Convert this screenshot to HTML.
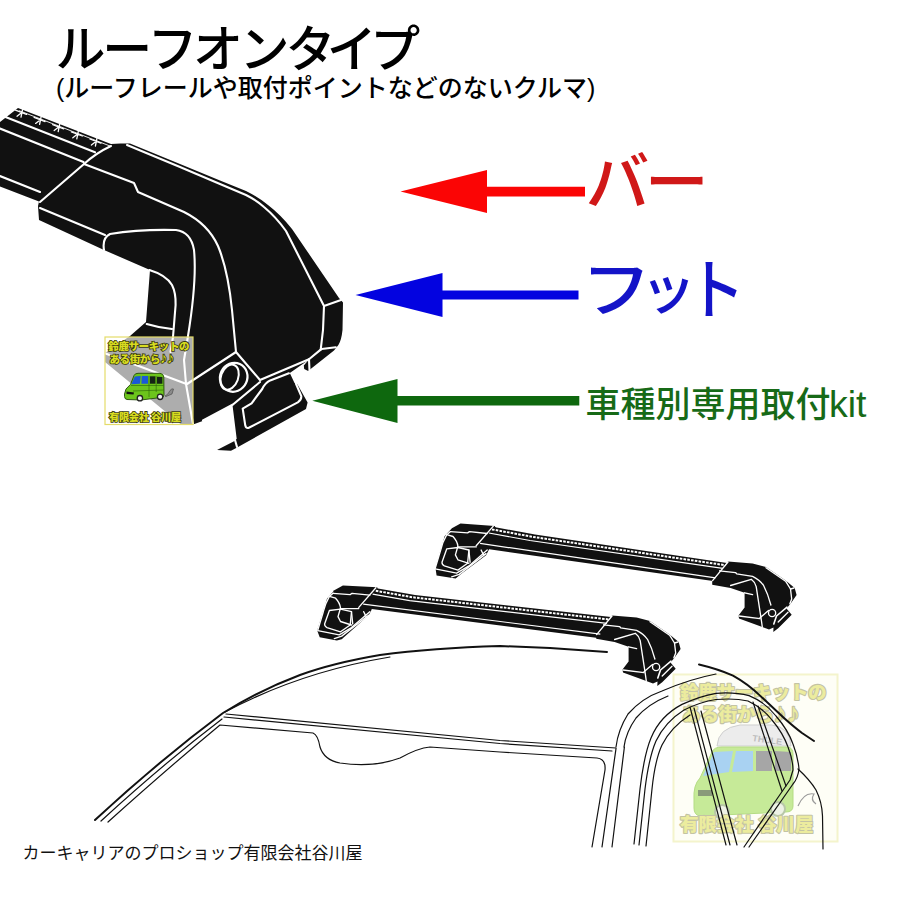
<!DOCTYPE html>
<html lang="ja">
<head>
<meta charset="utf-8">
<title>ルーフオンタイプ</title>
<style>
html,body{margin:0;padding:0;background:#fff;}
body{width:900px;height:900px;overflow:hidden;position:relative;font-family:"Liberation Sans","Noto Sans CJK JP",sans-serif;}
svg{position:absolute;left:0;top:0;display:block;}
text{font-family:"Liberation Sans","Noto Sans CJK JP",sans-serif;}
.w{fill:none;stroke:#fff;stroke-width:2.1;stroke-linecap:round;stroke-linejoin:round;}
.k{fill:none;stroke:#111;stroke-width:1.2;stroke-linecap:round;stroke-linejoin:round;}
.k2{fill:none;stroke:#111;stroke-width:2;stroke-linecap:round;stroke-linejoin:round;}
</style>
</head>
<body>
<svg width="900" height="900" viewBox="0 0 900 900">
<rect width="900" height="900" fill="#fff"/>

<!-- TITLE -->
<g id="title">
<text x="55.4 102.3 147.6 192.9 239.4 285.5 326.8 370.3" y="67" font-size="50" font-weight="500" fill="#000">ルーフオンタイプ</text>
<text x="56" y="96.5" font-size="25" font-weight="500" fill="#000">(ルーフレールや取付ポイントなどのないクルマ)</text>
</g>

<!-- BIGFOOT -->
<g id="bigfoot">
<path fill="#111" d="M0,122 L18,108 L111,144 L120.5,143.5 L130,143.5 L180,164 L220,180.5 L246,191 Q258,197 268,205 Q281,215 292,229 L339,298 L343,302.5 L342.5,330 Q341.5,340 338.4,345 L334,350.4 L310,369.5 L308.2,371 L304.2,369 L303.8,365.6 L308.5,360 L289.8,373 L294.5,383 L297.5,384.5 L307.6,402.4 L306,409 L236.7,447.8 L231,450.7 L217,450 L235,440.7 L236.7,438.7 L232.5,405 L202.7,421 L193,424.5 L181,424.5 L105,362 L105,353 L130,336 L146,322 L150,270 L104,250 L39,220 L38,206 L39,201.5 L0,186.5 Z"/>

<!-- white detail lines -->
<path class="w" d="M5.5,117 L95,152.3"/>
<path class="w" d="M0,128.5 L83.5,162"/>
<path class="w" d="M0,176 L40,192"/>
<path class="w" d="M111,146 Q96,153 84,164 L40,202"/>
<path class="w" d="M84,164 L134,183 L138,192 L184,212 Q208,224 218,246 Q228,270 232,310 L236,352"/>
<path class="w" d="M127,145 L180,167 L220,184 L246,195 Q256,200 264,207 Q276,217 286,231 L324,306 L323,330 L320.7,349.6"/>
<path class="w" d="M324,306 L341,300"/>
<path class="w" d="M321.6,349 L335.8,347.3"/>
<path class="w" d="M309,359.3 L309.5,370.5"/>
<path class="w" d="M40,208 L105,235"/>
<path class="w" d="M104,250 Q102,238 110,234 Q140,229 176,230 Q191,232 194,250 Q197,280 188,336 L184,360 L186,384 L193,424"/>
<path class="w" d="M149.4,270 Q166,275 172,285 Q176,293 175.6,305 L173,337 L170.5,352"/>
<path class="w" d="M146.7,324 Q158,327.5 172,329"/>
<path class="w" d="M236,352 L187,384"/>
<path class="w" d="M105.5,353.5 L186.5,384"/>
<path class="w" d="M236,352 L260,380 L309,359.3 L320.7,349.6"/>
<path class="w" d="M260,382 L233,404.5 L203,420.5"/>
<path class="w" d="M288.9,373.3 L270.2,380.4 Q265,383 262.2,389 L251.6,403.3 L242.7,408.7 L245.3,425.6 Q246,428.6 248.8,427.8 L297.8,402.4 Q301.5,400 301.3,396.2 L296,383.8"/>
<path class="w" d="M235,440 L237,447"/>
<ellipse class="w" cx="233.7" cy="377.3" rx="13.6" ry="14.6" transform="rotate(25 233.7 377.3)" style="stroke-width:2.2"/>
<ellipse class="w" cx="229.6" cy="377.2" rx="8.6" ry="13" transform="rotate(20 229.6 377.2)" style="stroke-width:2"/>
<!-- tick marks on bar -->
<g class="w" style="stroke-width:1.3"><path d="M15.5,110.2 l11,4.2 M22.5,109.7 l-1.5,7.5 M21.5,112.7 l-4.5,3.5"/><path d="M34.1,117.4 l11,4.2 M41.1,116.9 l-1.5,7.5 M40.1,119.9 l-4.5,3.5"/><path d="M52.7,124.6 l11,4.2 M59.7,124.1 l-1.5,7.5 M58.7,127.1 l-4.5,3.5"/><path d="M71.3,131.8 l11,4.2 M78.3,131.3 l-1.5,7.5 M77.3,134.3 l-4.5,3.5"/><path d="M89.9,139.0 l11,4.2 M96.9,138.5 l-1.5,7.5 M95.9,141.5 l-4.5,3.5"/><path d="M19.5,110.8 L110,146" style="stroke-width:0.9"/></g>
<!-- logo overlay -->
<g id="logo1">
<rect x="105" y="337" width="88" height="87.5" fill="#fff" fill-opacity="0.66" stroke="#e4dc6a" stroke-width="1.2"/>
<g font-size="10.5" font-weight="900" fill="#d8dc20" stroke="#3a3a10" stroke-width="1.6" paint-order="stroke" letter-spacing="-0.4">
<text x="108.3" y="350">鈴鹿サーキットの</text>
<text x="109.5" y="362.5">ある街から<tspan font-size="15" dy="0.5">♪♪</tspan></text>
<text x="109" y="420.5" font-size="10.3">有限会社 谷川屋</text>
</g>
<!-- van -->
<g>
<path d="M124.5,394 L126,389 L130.5,384.4 L134,375.5 Q135,373.3 138,373.3 L160,373.3 Q163.5,373.5 163.8,377 L164,395 Q164,397.5 161,397.5 L141,400 L127,399.5 Q124.5,399 124.5,396.5 Z" fill="#6cc41c" stroke="#24480a" stroke-width="0.9"/>
<path d="M131.3,384.2 L134.8,376.5 L140.7,375.9 L139.9,383.7 Z" fill="#1a58d8"/>
<path d="M141.8,375.9 L148,375.9 L148,383.7 L141.4,383.7 Z" fill="#1a58d8"/>
<path d="M150,376.3 L155.4,376.3 L155.4,383.7 L150,383.7 Z" fill="#142414"/>
<path d="M157,376.7 L162.4,376.9 L162.4,383.7 L157,383.7 Z" fill="#142414"/>
<path d="M131,385.5 L163.5,385.5 M149,376 L149,397 M156.2,376 L156.2,392 M133,391 L163.5,390" stroke="#2c6408" stroke-width="0.6" fill="none"/>
<path d="M126.5,391.5 L134,392.5 L133.5,394.5 L126.5,394 Z" fill="#111"/>
<circle cx="139.9" cy="398.2" r="2.7" fill="#f4f4f4" stroke="#222" stroke-width="1.3"/>
<circle cx="160.1" cy="396.8" r="2.7" fill="#f4f4f4" stroke="#222" stroke-width="1.3"/>
<path d="M165,396 Q168,395 170,390.5 Q172,388 173.5,389 L172,394 L166,396.5 Z" fill="#8a8a8a" stroke="#444" stroke-width="0.6"/>
</g>
</g>
</g>

<!-- ARROWS -->
<g id="arrows">
<path fill="#fb0505" d="M400.5,191.5 L487,170 L487,186.7 L585,186.7 L585,196.4 L487,196.4 L487,213 Z"/>
<path fill="#0303e0" d="M355.5,295 L442.5,273 L442.5,290.5 L578.5,290.5 L578.5,299.6 L442.5,299.6 L442.5,317 Z"/>
<path fill="#0e680e" d="M312.3,400.7 L397.5,379 L397.5,396 L579.3,396 L579.3,405.6 L397.5,405.6 L397.5,423 Z"/>
<text x="585.4 644.8" y="205.3" font-size="64" font-weight="500" fill="#d01818">バー</text>
<g font-size="58" font-weight="500" fill="#1414c8">
<text transform="translate(581.3,312.3) scale(1.21,1.068)">フ</text><text transform="translate(640.5,309.3) scale(0.96,0.95)">ッ</text><text transform="translate(687,313.5) scale(1,1.138)">ト</text>
</g>
<text x="585.5" y="417" font-size="35" font-weight="500" fill="#176a17">車種別専用取付<tspan font-size="37.5" dx="-1.5">kit</tspan></text>
</g>

<!-- WATERMARK -->
<g id="logo2">
<rect x="673.5" y="674.5" width="164" height="167" fill="#fefef6" stroke="#f4f4cc" stroke-width="2"/>
<!-- van -->
<path d="M717,746 Q718,728 740,725 L772,725 Q790,727 791,746 Z" fill="#ececec" stroke="#cfcfcf" stroke-width="1"/>
<text x="752" y="741" font-size="9" font-weight="700" fill="#bdbdbd" transform="rotate(8 752 741)">THULE</text>
<path d="M694,800 Q693,785 700,778 L712,752 Q714,747 722,747 L788,747 Q793,748 793,754 L793,806 Q793,812 786,812 L700,816 Q694,815 694,808 Z" fill="#c6ea98" stroke="#b4dc84" stroke-width="1"/>
<path d="M703,776 L714,752 L733,751 L729,772 Z" fill="#a9d2f2"/>
<path d="M736,751 L753,751 L753,771 L732,772 Z" fill="#a9d2f2"/>
<path d="M756,751 L772,751 L772,771 L756,771 Z" fill="#a6a6a6"/>
<path d="M775,751 L791,752 L791,771 L775,771 Z" fill="#a6a6a6"/>
<path d="M698,790 h14 v6 h-14z" fill="#8a9a7a"/>
<circle cx="722" cy="812" r="7" fill="#eef2e6" stroke="#b8c8a8" stroke-width="2"/>
<circle cx="778" cy="809" r="7" fill="#eef2e6" stroke="#b8c8a8" stroke-width="2"/>
<path d="M798,806 q6,-14 16,-12 q-4,6 2,10" fill="none" stroke="#9a9a9a" stroke-width="1.2"/>
<g font-size="18.6" font-weight="900" fill="#ecec9e" stroke="#c3c3a4" stroke-width="2.2" paint-order="stroke" stroke-linejoin="round" letter-spacing="-0.3">
<text x="680" y="699">鈴鹿サーキットの</text>
<text x="682" y="721">ある街から<tspan font-size="27" dy="1">♪♪</tspan></text>
<text x="680" y="831">有限会社 谷川屋</text>
</g>
</g>

<!-- CAR -->
<g id="car">
<!-- roof / A pillar left -->
<path class="k2" d="M95,820 Q160,760 223,713 Q260,690 300,675 Q333,663 380,655 Q433,648 500,646 L550,648 L607,652"/>
<path class="k" d="M101,821 Q163,764 222,719"/>
<path class="k" d="M108,822 Q168,768 220,725 L313,733 Q318,735 320,747 Q324,760 340,763 Q373,768 400,758 Q418,748 430,747 L500,752 L597,758 Q606,759 605,770 L592,847"/>
<path class="k" d="M225,712 Q300,672 390,657" stroke="#444"/>
<path class="k" d="M226,714 L500,740.5 L616,748"/>
<path class="k" d="M224,717 L500,743.5 L612,751"/>
<!-- right A pillar -->
<path class="k" d="M616,748.6 L602,847"/>
<path class="k" d="M624.4,747 L612,847"/>
<!-- roof side curves -->
<path class="k" d="M616,747 Q618,730 628,714 Q642,698 662,691 Q690,679 716,674"/>
<path class="k" d="M624,747 Q626,732 636,718 Q648,704 668,696"/>
<path class="k2" d="M699,664.5 Q718,669 733,675.6 Q748,684 760,695.6 L784,718 Q794,727 802,733 L814,741"/>
<!-- door frame -->
<path class="k" d="M634,844 L640,789 Q644,755 651,738 Q660,716 682,704.4 Q700,696 716,693.3 Q735,692 749,695.6 Q765,702 776,716 Q788,730 793,744 Q798,757 799,769 Q798,778 793,784 L749,847"/>
<path class="k" d="M639,845 L645,789 Q649,757 656,741 Q665,722 684,710 Q700,702 716,699.5 Q735,698 748,701 Q763,708 772,720 Q783,733 788,747 Q793,760 793,770 L790,780 L744,847"/>
<path class="k" d="M646,846 L652,789 Q655,760 662,745 Q671,727 690,715"/>
<!-- B pillar -->
<path class="k" d="M690,707 L726,845"/>
<path class="k" d="M694,708 L730,845"/>
<path class="k" d="M701,711 L737,845"/>
<!-- rear window -->
<path class="k" d="M753,702 L782,791" stroke="#2c3c14" stroke-width="2.6"/>
<path class="k" d="M758,706 L786,786"/>
<!-- rear body -->
<path class="k" d="M798,769 Q810,780 816,790 Q822,802 822.5,816 L823,849"/>
</g>


<!-- BARS -->
<g id="bars">
<!-- rear bar -->
<path fill="#111" d="M494,527 L535,534.5 L727,563 L713,581 L477,547.5 Z"/>
<path fill="#111" d="M444.6,536.3 L451.9,528.3 L460.5,523.4 L494.7,525.9 L497,530 L488.6,550.3 L486.1,555.2 L461.7,573.6 L455.6,578.5 L436.6,575.4 L435.4,567.5 Z"/>
<path fill="#111" d="M728,561.6 L752.6,563.4 L766,567 L785.6,580.6 L794.7,588 L796.6,595 L790.5,603.8 L786.5,608.5 L791.7,614.8 L778.2,628.2 L773.3,632 L773.5,627.5 L769,629.5 L762.3,627 L739,618.5 L738.5,615.4 L744.6,607.5 L744.6,592.8 L730.6,587.9 L712.2,584.8 L712.2,581.2 L714,577 Z"/>
<!-- front bar -->
<path fill="#111" d="M378,588.5 L415,595 L611,617 L598,638 L360,607.5 Z"/>
<path fill="#111" d="M327,598.8 L334.3,590.3 L342.9,585.4 L377.1,587.2 L379,591 L371,611 L368.6,615.3 L341.7,639.2 L336.8,640.4 L319.7,637.3 L317.2,630.6 Z"/>
<path fill="#111" d="M612.0,615.6 L636.6,617.4 L650.0,621.0 L669.6,634.6 L678.7,642.0 L680.6,649.0 L674.5,657.8 L670.5,662.5 L675.7,668.8 L662.2,682.2 L657.3,686.0 L657.5,681.5 L653.0,683.5 L646.3,681.0 L623.0,672.5 L622.5,669.4 L628.6,661.5 L628.6,646.8 L614.6,641.9 L596.2,638.8 L596.2,635.2 L598.0,631.0 Z"/>
<!-- bar white lines -->
<g fill="none" stroke="#fff">
<path d="M492,529.4 L533,536.9 L725.3,565.2" stroke-width="2" stroke-dasharray="2.6 1.2"/>
<path d="M488.9,533 L530,540.5 L722.8,568.4" stroke-width="1.2"/>
<path d="M480.1,543.4 L715.5,577.8" stroke-width="1.2"/>
<path d="M375.8,590.8 L412.8,597.3 L609.4,619.5" stroke-width="2" stroke-dasharray="2.6 1.2"/>
<path d="M372.6,594.2 L409.6,600.7 L607.1,623.3" stroke-width="1.2"/>
<path d="M363.2,604.1 L600.3,634.2" stroke-width="1.2"/>
</g>
<!-- left feet white lines (front) -->
<g class="w" style="stroke-width:1.35">
<path d="M333.1,593.3 L350.2,594.6 L352.1,593.3 L369.8,595.2"/>
<path d="M375.9,587.8 L358.8,607.4"/>
<path d="M340.5,608.6 L358.8,608.6"/>
<path d="M333.1,593.3 L329.4,596.4 Q325,604 323.3,611.7 L317.8,630"/>
<path d="M329.4,596.4 L335.6,598.2 Q340,603 340.5,608 L338,616.6 L340.5,621.5 L351.5,625"/>
<path d="M329.4,610.5 L324.6,623.9 Q324.5,626.5 327,627.6 L340.5,631.8 L350.2,625 L351.5,611.7 L340.5,609.2 Z"/>
<path d="M317.8,630.6 L339.2,634.9 L351.5,627.6 L369.8,611.7"/>
<path d="M334.3,638.6 L341.7,636.1 L368.6,615.3"/>
<path d="M351.5,611.7 L352.7,623.9"/>
<path d="M363.7,611.7 L366.1,616.6"/>
</g>
<g class="w" style="stroke-width:1.35" transform="translate(117.4,-61.7)">
<path d="M333.1,593.3 L350.2,594.6 L352.1,593.3 L369.8,595.2"/>
<path d="M375.9,587.8 L358.8,607.4"/>
<path d="M340.5,608.6 L358.8,608.6"/>
<path d="M333.1,593.3 L329.4,596.4 Q325,604 323.3,611.7 L317.8,630"/>
<path d="M329.4,596.4 L335.6,598.2 Q340,603 340.5,608 L338,616.6 L340.5,621.5 L351.5,625"/>
<path d="M329.4,610.5 L324.6,623.9 Q324.5,626.5 327,627.6 L340.5,631.8 L350.2,625 L351.5,611.7 L340.5,609.2 Z"/>
<path d="M317.8,630.6 L339.2,634.9 L351.5,627.6 L369.8,611.7"/>
<path d="M334.3,638.6 L341.7,636.1 L368.6,615.3"/>
<path d="M351.5,611.7 L352.7,623.9"/>
<path d="M363.7,611.7 L366.1,616.6"/>
</g>
<!-- right feet white lines (rear) -->
<g class="w" style="stroke-width:1.35">
<path d="M728,562 L712.6,580.6"/>
<path d="M719.6,570.8 L735.5,572.6 L736.7,573.8 L752.6,576.3 Q760,580 763.6,585.5 Q768,594 770.9,605"/>
<path d="M730.6,585.5 L751.3,579.3 Q755,582 756.2,586.7 L761.1,618.5 L762.3,627"/>
<path d="M766,567.7 L785.6,581.2 L790.5,589 L794,588"/>
<path d="M790.5,589 L791.7,599 L789.9,603.8"/>
<circle cx="772.1" cy="613" r="3.6"/>
<path d="M744.6,592.8 L752.6,594.6"/>
<path d="M739,616 L760,618.7"/>
<path d="M768.5,610.5 L760,617.8"/>
<path d="M778.2,622 L788,612.3"/>
<path d="M787,607.2 L776.5,616 L773.8,624" style="stroke-width:1.6"/>
</g>
<g class="w" style="stroke-width:1.35" transform="translate(-116,54)">
<path d="M728,562 L712.6,580.6"/>
<path d="M719.6,570.8 L735.5,572.6 L736.7,573.8 L752.6,576.3 Q760,580 763.6,585.5 Q768,594 770.9,605"/>
<path d="M730.6,585.5 L751.3,579.3 Q755,582 756.2,586.7 L761.1,618.5 L762.3,627"/>
<path d="M766,567.7 L785.6,581.2 L790.5,589 L794,588"/>
<path d="M790.5,589 L791.7,599 L789.9,603.8"/>
<circle cx="772.1" cy="613" r="3.6"/>
<path d="M744.6,592.8 L752.6,594.6"/>
<path d="M739,616 L760,618.7"/>
<path d="M768.5,610.5 L760,617.8"/>
<path d="M778.2,622 L788,612.3"/>
<path d="M787,607.2 L776.5,616 L773.8,624" style="stroke-width:1.6"/>
</g>
</g>

<!-- FOOTER -->
<text x="22.5" y="858.5" font-size="17" fill="#111">カーキャリアのプロショップ有限会社谷川屋</text>
</svg>
</body>
</html>
